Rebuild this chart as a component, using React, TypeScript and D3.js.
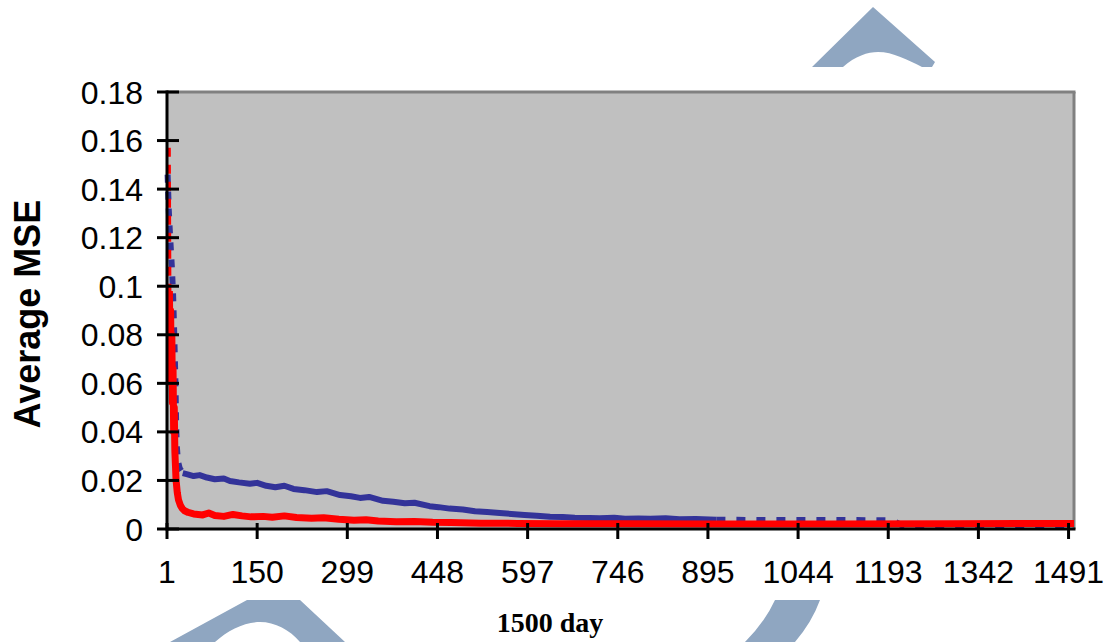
import React from 'react';
import * as d3 from 'd3';

// day / average MSE pairs
const blueEarly: [number, number][] = [
  [2, 0.146], [4, 0.131], [6, 0.121], [9, 0.108], [11, 0.097], [13, 0.08],
  [15, 0.06], [16, 0.045], [17, 0.035], [19, 0.028], [22, 0.025], [27, 0.023],
];
const blueMid: [number, number][] = [
  [27, 0.023], [35, 0.0225], [45, 0.0218], [55, 0.0222], [67, 0.0212], [80, 0.0205],
  [95, 0.0208], [105, 0.0198], [120, 0.0192], [138, 0.0186], [150, 0.019], [165, 0.0178],
  [180, 0.0172], [195, 0.0178], [210, 0.0165], [228, 0.016], [249, 0.0152], [265, 0.0156],
  [287, 0.014], [305, 0.0135], [320, 0.0128], [335, 0.0132], [358, 0.0116], [375, 0.0112],
  [394, 0.0106], [410, 0.0108], [435, 0.0094], [450, 0.009], [468, 0.0084], [490, 0.008],
  [510, 0.0073], [530, 0.007], [551, 0.0066], [570, 0.0062], [592, 0.0058], [612, 0.0055],
  [634, 0.005], [655, 0.0049], [675, 0.0046], [700, 0.0045], [716, 0.0044], [740, 0.0046],
  [758, 0.0042], [780, 0.0043], [800, 0.0042], [825, 0.0044], [848, 0.004], [875, 0.0041],
  [909, 0.0038],
];
const blueLate: [number, number][] = [
  [909, 0.0038], [1000, 0.0037], [1100, 0.0037], [1200, 0.0036], [1215, 0.0016],
  [1350, 0.0015], [1500, 0.0015],
];
const redSpike: [number, number][] = [[4, 0.157], [5, 0.098]];
const redMain: [number, number][] = [
  [5, 0.098], [6, 0.072], [7, 0.09], [8, 0.06], [9, 0.08], [10, 0.052], [11, 0.066],
  [12, 0.04], [13, 0.05], [14, 0.032], [15, 0.026], [16, 0.02], [18, 0.015], [20, 0.012],
  [23, 0.0098], [26, 0.0085], [30, 0.0075], [36, 0.0068], [45, 0.0062], [60, 0.0058],
  [70, 0.0066], [80, 0.0056], [95, 0.0052], [110, 0.006], [125, 0.0054], [140, 0.005],
  [160, 0.0052], [175, 0.0048], [195, 0.0054], [215, 0.0047], [240, 0.0044], [260, 0.0046],
  [285, 0.004], [310, 0.0036], [330, 0.0038], [350, 0.0033], [380, 0.003], [410, 0.0031],
  [440, 0.0028], [470, 0.0027], [520, 0.0024], [580, 0.0023], [650, 0.0022], [750, 0.0022],
  [900, 0.0021], [1100, 0.0021], [1300, 0.0022], [1500, 0.0023],
];

const xTicks = [1, 150, 299, 448, 597, 746, 895, 1044, 1193, 1342, 1491];
const yTicks = [0, 0.02, 0.04, 0.06, 0.08, 0.1, 0.12, 0.14, 0.16, 0.18];
const yTickLabels = ['0', '0.02', '0.04', '0.06', '0.08', '0.1', '0.12', '0.14', '0.16', '0.18'];

const W = 1109;
const H = 642;
const left = 167, right = 1074, top = 92, bottom = 529;
const blue = '#333399';
const red = '#ff0000';
const mark = '#8fa6c1';
const sans = '"Liberation Sans", Arial, sans-serif';

export default function App() {
  const x = d3.scaleLinear().domain([1, 1500]).range([left, right]);
  const y = d3.scaleLinear().domain([0, 0.18]).range([bottom, top]);
  const line = d3.line<[number, number]>().x(d => x(d[0])).y(d => y(d[1]));

  return (
    <div style={{ position: 'fixed', left: 0, top: 0 }}>
      <svg width={W} height={H} style={{ display: 'block', background: '#fff' }}>
        {/* watermark pieces peeking out around the chart */}
        <path d="M812,67 L873,7 L935,62 L932,67 L922,67 C908,60 893,52 878,52 C868,52 855,56 843,67 Z" fill={mark} />
        <path d="M247,600 L300,600 L345,642 L300,642 C290,630 275,622 260,622 C245,622 228,630 215,642 L170,642 Z" fill={mark} />
        <path d="M775,600 L820,600 Q812,622 795,642 L745,642 Q765,622 775,600 Z" fill={mark} />

        <rect x={left} y={top} width={right - left} height={bottom - top} fill="#c0c0c0" />
        <line x1={left} x2={right + 1.5} y1={top} y2={top} stroke="#808080" strokeWidth={3} />
        <line x1={right} x2={right} y1={top} y2={bottom} stroke="#808080" strokeWidth={3} />

        <g fill="none" strokeLinejoin="round">
          <path d={line(blueEarly) || ''} stroke={blue} strokeWidth={6} strokeDasharray="8,9" />
          <path d={line(blueMid) || ''} stroke={blue} strokeWidth={6} />
          <path d={line(blueLate) || ''} stroke={blue} strokeWidth={6} strokeDasharray="9,11" />
          <path d={line(redSpike) || ''} stroke={red} strokeWidth={4} strokeDasharray="9,8" />
          <path d={line(redMain) || ''} stroke={red} strokeWidth={7} />
        </g>

        {/* axes */}
        <line x1={left} x2={left} y1={top - 1.5} y2={bottom + 1.5} stroke="#000" strokeWidth={3} />
        <line x1={left} x2={right + 1.5} y1={bottom} y2={bottom} stroke="#000" strokeWidth={3} />
        {yTicks.map((t, i) => (
          <g key={'y' + t}>
            <line x1={left - 10} x2={left + 12} y1={y(t)} y2={y(t)} stroke="#000" strokeWidth={3} />
            <text x={143} y={y(t)} dy="0.36em" textAnchor="end" fontFamily={sans} fontSize={32} fill="#000">
              {yTickLabels[i]}
            </text>
          </g>
        ))}
        {xTicks.map(t => (
          <g key={'x' + t}>
            <line x1={x(t)} x2={x(t)} y1={bottom - 6} y2={bottom + 10} stroke="#000" strokeWidth={3} />
            <text x={x(t)} y={583} textAnchor="middle" fontFamily={sans} fontSize={32} fill="#000">
              {t}
            </text>
          </g>
        ))}

        <text transform="translate(40,314) rotate(-90)" textAnchor="middle" fontFamily={sans} fontWeight="bold" fontSize={36} fill="#000">
          Average MSE
        </text>
        <text x={550} y={632} textAnchor="middle" fontFamily='"Liberation Serif", "Times New Roman", serif' fontWeight="bold" fontSize={28} fill="#000">
          1500 day
        </text>
      </svg>
    </div>
  );
}
